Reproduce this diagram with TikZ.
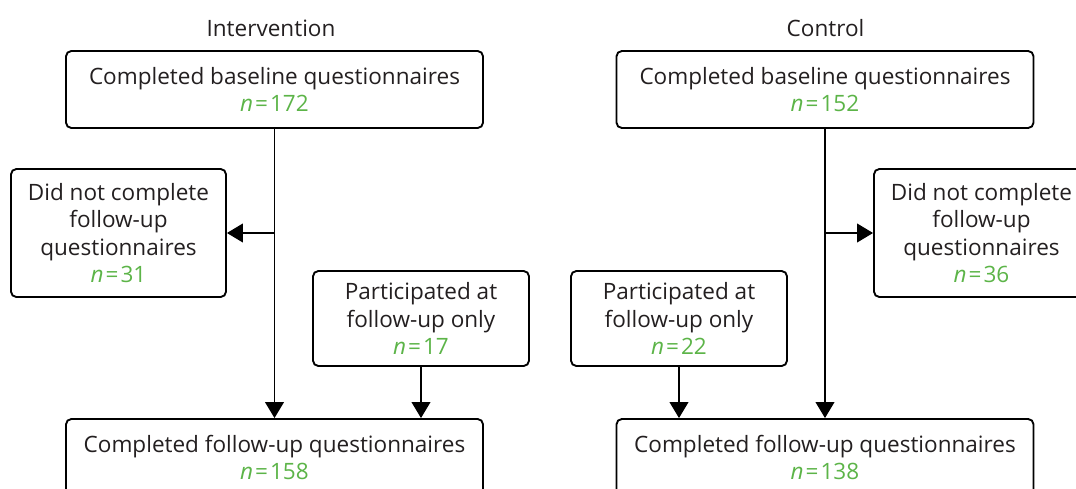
\documentclass[tikz,border=0pt]{standalone}
\usepackage{fontspec}
\setmainfont{Open Sans}
\usetikzlibrary{arrows.meta}
\usetikzlibrary{calc}
\definecolor{textgray}{RGB}{35,31,32}
\definecolor{countgreen}{RGB}{92,180,72}
\newcommand{\countn}[1]{\textcolor{countgreen}{\textit{n}\kern1.5pt=\kern1.5pt#1}}

\begin{document}
\begin{tikzpicture}[x=0.75pt, y=-0.75pt, font=\fontsize{16.9}{20.7}\selectfont, text=textgray,
        box_style/.style={draw=black, line width=1.4pt, rounded corners=4pt, align=center, inner sep=0pt},
        wide_box/.style={box_style, minimum width=312.75pt, minimum height=57.75pt},
        side_box/.style={box_style, minimum width=161.25pt, minimum height=96pt},
        join_box/.style={box_style, minimum width=162pt, minimum height=71.25pt},
        title_style/.style={inner sep=0pt},
        arrow_style/.style={draw=black, line width=1.4pt, -{Triangle[length=12pt, width=14pt]}}]
        \useasboundingbox (0,0) rectangle (1076,489);
        \clip (0,0) rectangle (1076,489);

        \node [title_style](t1) at (271,28) {Intervention};
        \node [title_style](t2) at (825.5,28) {Control};

        \node [wide_box](b1) at (274.5,89.5) {Completed baseline questionnaires\\\countn{172}};
        \node [side_box](d1) at (118.5,233) {Did not complete\\follow-up\\questionnaires\\\countn{31}};
        \node [join_box](p1) at (421,318.5) {Participated at\\follow-up only\\\countn{17}};
        \node [wide_box](f1) at (274.5,457.5) {Completed follow-up questionnaires\\\countn{158}};

        \node [wide_box](b2) at (825,89.5) {Completed baseline questionnaires\\\countn{152}};
        \node [side_box](d2) at (981.5,233) {Did not complete\\follow-up\\questionnaires\\\countn{36}};
        \node [join_box](p2) at (679,318.5) {Participated at\\follow-up only\\\countn{22}};
        \node [wide_box](f2) at (825,457.5) {Completed follow-up questionnaires\\\countn{138}};

        \coordinate (s1) at (b1.south |- d1.east);
        \coordinate (s2) at (b2.south |- d2.west);

        \draw [arrow_style] (b1.south) -- (f1.north);
        \draw [arrow_style] (s1) -- (d1.east);
        \draw [arrow_style] (p1.south) -- (p1.south |- f1.north);

        \draw [arrow_style] (b2.south) -- (f2.north);
        \draw [arrow_style] (s2) -- (d2.west);
        \draw [arrow_style] (p2.south) -- (p2.south |- f2.north);
\end{tikzpicture}
\end{document}
